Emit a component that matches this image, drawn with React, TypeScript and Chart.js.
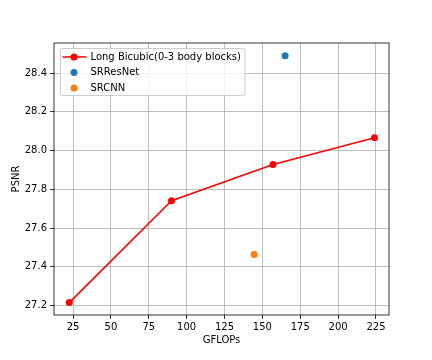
import React, { useEffect, useRef } from "react";
import { Chart, registerables } from "chart.js";

Chart.register(...registerables);

const longBicubicLabel = "Long Bicubic(0-3 body blocks)";
const longBicubicGflops = [22.5, 90, 157, 224];
const longBicubicPsnr = [27.215, 27.741, 27.928, 28.066];

const srresnetLabel = "SRResNet";
const srresnetGflops = [165];
const srresnetPsnr = [28.489];

const srcnnLabel = "SRCNN";
const srcnnGflops = [144.5];
const srcnnPsnr = [27.463];

const xTicks = [25, 50, 75, 100, 125, 150, 175, 200, 225];
const yTicks = [27.2, 27.4, 27.6, 27.8, 28.0, 28.2, 28.4];

const xTitle = "GFLOPs";
const yTitle = "PSNR";

const FONT = "'DejaVu Sans', sans-serif";

const frameAndLegend = {
  id: "frameAndLegend",
  afterDraw(chart: any) {
    const { ctx, chartArea } = chart;
    ctx.save();
    // axes frame
    ctx.strokeStyle = "#000000";
    ctx.lineWidth = 0.8;
    ctx.strokeRect(chartArea.left, chartArea.top, chartArea.right - chartArea.left, chartArea.bottom - chartArea.top);

    // legend
    const ds = chart.data.datasets;
    ctx.font = `10px ${FONT}`;
    let maxW = 0;
    ds.forEach((d: any) => {
      maxW = Math.max(maxW, ctx.measureText(d.label).width);
    });
    const bx = chartArea.left + 6.5;
    const by = chartArea.top + 5.5;
    const rowH = 15.5;
    const textX = bx + 30;
    const bw = textX - bx + maxW + 4;
    const bh = 47;
    const r = 2;
    ctx.beginPath();
    ctx.moveTo(bx + r, by);
    ctx.lineTo(bx + bw - r, by);
    ctx.arcTo(bx + bw, by, bx + bw, by + r, r);
    ctx.lineTo(bx + bw, by + bh - r);
    ctx.arcTo(bx + bw, by + bh, bx + bw - r, by + bh, r);
    ctx.lineTo(bx + r, by + bh);
    ctx.arcTo(bx, by + bh, bx, by + bh - r, r);
    ctx.lineTo(bx, by + r);
    ctx.arcTo(bx, by, bx + r, by, r);
    ctx.closePath();
    ctx.fillStyle = "rgba(255,255,255,0.8)";
    ctx.fill();
    ctx.strokeStyle = "#cccccc";
    ctx.lineWidth = 1;
    ctx.stroke();

    ds.forEach((d: any, i: number) => {
      const cy = by + 8.5 + i * rowH;
      const mx = bx + 13.5;
      if (d.showLine) {
        ctx.strokeStyle = d.borderColor;
        ctx.lineWidth = 1.5;
        ctx.beginPath();
        ctx.moveTo(bx + 2, cy);
        ctx.lineTo(bx + 26, cy);
        ctx.stroke();
      }
      ctx.fillStyle = d.pointBackgroundColor;
      ctx.beginPath();
      ctx.arc(mx, cy, 3.5, 0, Math.PI * 2);
      ctx.fill();
      ctx.fillStyle = "#000000";
      ctx.textAlign = "left";
      ctx.textBaseline = "middle";
      ctx.fillText(d.label, textX, cy);
    });
    ctx.restore();
  },
};

export default function App() {
  const ref = useRef<HTMLCanvasElement | null>(null);
  useEffect(() => {
    if (!ref.current) return;
    const toPts = (xs: number[], ys: number[]) => xs.map((x, i) => ({ x, y: ys[i] }));
    const chart = new Chart(ref.current, {
      type: "scatter",
      data: {
        datasets: [
          {
            label: longBicubicLabel,
            data: toPts(longBicubicGflops, longBicubicPsnr),
            showLine: true,
            borderColor: "#ff0000",
            backgroundColor: "#ff0000",
            pointBackgroundColor: "#ff0000",
            pointBorderWidth: 0,
            pointRadius: 3.5,
            borderWidth: 1.5,
          },
          {
            label: srresnetLabel,
            data: toPts(srresnetGflops, srresnetPsnr),
            showLine: false,
            borderColor: "#1f77b4",
            backgroundColor: "#1f77b4",
            pointBackgroundColor: "#1f77b4",
            pointBorderWidth: 0,
            pointRadius: 3.5,
          },
          {
            label: srcnnLabel,
            data: toPts(srcnnGflops, srcnnPsnr),
            showLine: false,
            borderColor: "#ff7f0e",
            backgroundColor: "#ff7f0e",
            pointBackgroundColor: "#ff7f0e",
            pointBorderWidth: 0,
            pointRadius: 3.5,
          },
        ] as any,
      },
      options: {
        responsive: false,
        animation: false,
        devicePixelRatio: 1,
        layout: { padding: { left: 0, right: 43, top: 43, bottom: 10 } },
        plugins: { legend: { display: false }, tooltip: { enabled: false } },
        scales: {
          x: {
            type: "linear",
            min: 12.4,
            max: 233.6,
            afterFit: (s: any) => {
              s.height = 35;
            },
            afterBuildTicks: (s: any) => {
              s.ticks = xTicks.map((v) => ({ value: v }));
            },
            grid: { color: "#b0b0b0", lineWidth: 0.8, tickLength: 4, tickColor: "#000000", tickWidth: 0.8 },
            border: { display: false },
            ticks: {
              color: "#000000",
              font: { family: FONT, size: 10 },
              padding: 2,
              maxRotation: 0,
              callback: (v: any) => String(v),
            },
            title: { display: true, text: xTitle, color: "#000000", font: { family: FONT, size: 10 }, padding: { top: 2, bottom: 4 } },
          },
          y: {
            type: "linear",
            min: 27.151,
            max: 28.555,
            afterFit: (s: any) => {
              s.width = 54;
            },
            afterBuildTicks: (s: any) => {
              s.ticks = yTicks.map((v) => ({ value: v }));
            },
            grid: { color: "#b0b0b0", lineWidth: 0.8, tickLength: 4, tickColor: "#000000", tickWidth: 0.8 },
            border: { display: false },
            ticks: {
              color: "#000000",
              font: { family: FONT, size: 10 },
              padding: 3,
              callback: (v: any) => Number(v).toFixed(1),
            },
            title: { display: true, text: yTitle, color: "#000000", font: { family: FONT, size: 10 }, padding: { top: 10, bottom: 4 } },
          },
        },
      },
      plugins: [frameAndLegend],
    });
    return () => chart.destroy();
  }, []);
  return (
    <div style={{ position: "fixed", left: 0, top: 0, width: 432, height: 360, background: "#ffffff" }}>
      <canvas ref={ref} width={432} height={360} />
    </div>
  );
}
